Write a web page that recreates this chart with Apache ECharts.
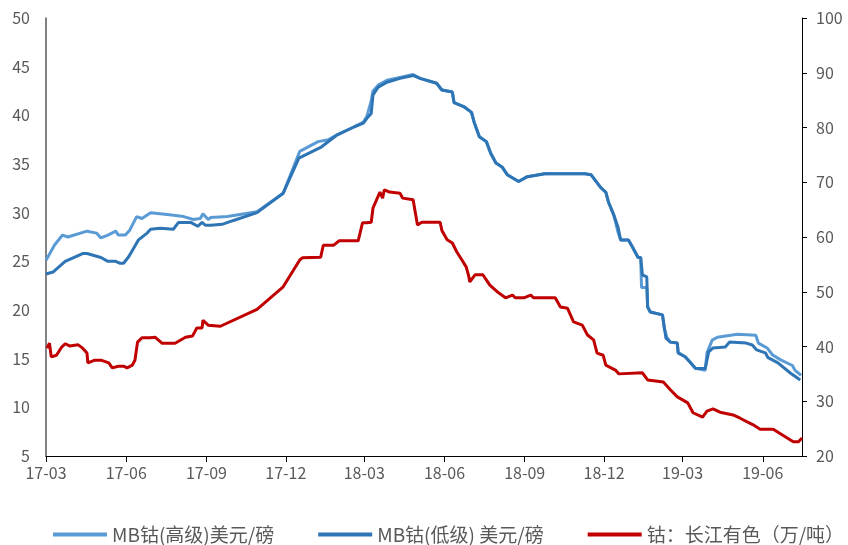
<!DOCTYPE html>
<html>
<head>
<meta charset="utf-8">
<script src="https://cdn.jsdelivr.net/npm/echarts@6/dist/echarts.min.js"></script>
<style>html,body{margin:0;padding:0;background:#fff}#c{width:848px;height:545px}</style>
</head>
<body>
<div id="c"></div>
<script>
const xTickLabels = ['17-03','17-06','17-09','17-12','18-03','18-06','18-09','18-12','19-03','19-06'];
const xMin = '2017-03-01';
const xMax = '2019-07-16';

const seriesNames = ['MB钴(高级)美元/磅', 'MB钴(低级) 美元/磅', '钴：长江有色（万/吨）'];

const highGradeDates = ['2017-03-01','2017-03-11','2017-03-20','2017-03-26','2017-04-17','2017-04-28','2017-05-03','2017-05-11','2017-05-20','2017-05-23','2017-05-31','2017-06-05','2017-06-13','2017-06-19','2017-06-29','2017-07-18','2017-08-06','2017-08-17','2017-08-25','2017-08-28','2017-09-03','2017-09-06','2017-09-25','2017-10-29','2017-11-28','2017-12-17','2018-01-07','2018-01-19','2018-01-29','2018-02-17','2018-02-28','2018-03-04','2018-03-09','2018-03-11','2018-03-17','2018-03-27','2018-04-11','2018-04-26','2018-05-04','2018-05-23','2018-05-29','2018-06-10','2018-06-12','2018-06-23','2018-07-02','2018-07-05','2018-07-11','2018-07-19','2018-07-24','2018-07-30','2018-08-06','2018-08-12','2018-08-25','2018-09-04','2018-09-24','2018-11-09','2018-11-16','2018-11-27','2018-12-03','2018-12-06','2018-12-12','2018-12-17','2018-12-20','2018-12-29','2019-01-03','2019-01-09','2019-01-12','2019-01-13','2019-01-19','2019-01-20','2019-01-23','2019-02-06','2019-02-08','2019-02-11','2019-02-15','2019-02-23','2019-02-24','2019-03-04','2019-03-10','2019-03-16','2019-03-18','2019-03-27','2019-03-29','2019-04-04','2019-04-10','2019-05-03','2019-05-24','2019-05-27','2019-06-06','2019-06-12','2019-06-21','2019-07-05','2019-07-08','2019-07-15'];
const highGradeValues = [25.1,26.7,27.7,27.5,28.1,27.9,27.4,27.7,28.1,27.7,27.7,28.2,29.6,29.4,30.0,29.8,29.6,29.3,29.4,29.9,29.3,29.5,29.6,30.1,32.0,36.3,37.3,37.5,38.0,38.8,39.3,39.9,41.5,42.5,43.1,43.6,43.9,44.2,43.8,43.3,42.6,42.4,41.3,40.9,40.3,39.3,37.8,37.3,36.1,35.1,34.7,33.9,33.2,33.7,34.0,34.0,33.9,32.6,32.1,31.1,29.8,28.0,27.2,27.2,26.4,25.4,25.4,22.3,22.3,20.3,19.8,19.5,18.1,17.2,16.7,16.6,15.6,15.2,14.6,14.0,13.8,13.8,15.6,16.9,17.2,17.5,17.4,16.6,16.1,15.4,14.9,14.3,13.8,13.3];

const lowGradeDates = ['2017-03-01','2017-03-09','2017-03-23','2017-04-12','2017-04-17','2017-05-03','2017-05-11','2017-05-20','2017-05-25','2017-05-29','2017-06-04','2017-06-15','2017-06-25','2017-06-29','2017-07-10','2017-07-25','2017-07-31','2017-08-14','2017-08-22','2017-08-27','2017-08-31','2017-09-06','2017-09-19','2017-10-02','2017-10-29','2017-11-28','2017-12-16','2018-01-10','2018-01-29','2018-02-17','2018-02-28','2018-03-04','2018-03-09','2018-03-11','2018-03-17','2018-03-27','2018-04-11','2018-04-26','2018-05-04','2018-05-23','2018-05-29','2018-06-10','2018-06-12','2018-06-23','2018-07-02','2018-07-05','2018-07-11','2018-07-19','2018-07-24','2018-07-30','2018-08-06','2018-08-12','2018-08-25','2018-09-04','2018-09-24','2018-11-09','2018-11-16','2018-11-27','2018-12-03','2018-12-06','2018-12-12','2018-12-17','2018-12-20','2018-12-29','2019-01-03','2019-01-09','2019-01-12','2019-01-14','2019-01-19','2019-01-20','2019-01-23','2019-02-06','2019-02-10','2019-02-15','2019-02-23','2019-02-24','2019-03-04','2019-03-10','2019-03-16','2019-03-18','2019-03-27','2019-03-31','2019-04-05','2019-04-19','2019-04-24','2019-05-13','2019-05-20','2019-05-25','2019-06-04','2019-06-07','2019-06-18','2019-07-03','2019-07-14'];
const lowGradeValues = [23.7,23.9,25.0,25.8,25.8,25.4,25.0,25.0,24.8,24.8,25.5,27.2,27.9,28.3,28.4,28.3,29.0,29.0,28.6,29.0,28.7,28.7,28.8,29.2,30.0,32.0,35.6,36.7,38.0,38.8,39.2,39.7,40.2,42.1,42.9,43.4,43.8,44.1,43.8,43.3,42.6,42.4,41.3,40.9,40.3,39.3,37.8,37.3,36.1,35.1,34.7,33.9,33.2,33.7,34.0,34.0,33.9,32.6,32.1,31.1,29.8,28.5,27.2,27.2,26.4,25.4,25.4,23.6,23.4,20.3,19.8,19.5,17.1,16.7,16.6,15.6,15.2,14.6,14.0,13.8,14.0,15.7,16.1,16.2,16.7,16.6,16.4,15.9,15.6,15.1,14.6,13.5,12.8];

const changjiangDates = ['2017-03-02','2017-03-05','2017-03-07','2017-03-13','2017-03-19','2017-03-23','2017-03-28','2017-04-07','2017-04-12','2017-04-17','2017-04-18','2017-04-26','2017-05-03','2017-05-05','2017-05-12','2017-05-16','2017-05-23','2017-05-29','2017-06-02','2017-06-08','2017-06-11','2017-06-14','2017-06-19','2017-06-28','2017-07-04','2017-07-12','2017-07-27','2017-08-08','2017-08-16','2017-08-21','2017-08-27','2017-08-28','2017-09-03','2017-09-17','2017-10-29','2017-11-28','2017-12-17','2017-12-20','2018-01-10','2018-01-13','2018-01-25','2018-01-31','2018-02-22','2018-02-27','2018-03-04','2018-03-09','2018-03-11','2018-03-19','2018-03-22','2018-03-24','2018-03-30','2018-04-11','2018-04-14','2018-04-26','2018-05-01','2018-05-06','2018-05-27','2018-05-29','2018-06-04','2018-06-10','2018-06-15','2018-06-21','2018-06-26','2018-06-29','2018-06-30','2018-07-06','2018-07-15','2018-07-23','2018-08-02','2018-08-10','2018-08-18','2018-08-21','2018-08-31','2018-09-08','2018-09-11','2018-10-06','2018-10-12','2018-10-20','2018-10-27','2018-11-06','2018-11-12','2018-11-19','2018-11-23','2018-11-30','2018-12-03','2018-12-09','2018-12-14','2018-12-18','2019-01-14','2019-01-20','2019-02-07','2019-02-15','2019-02-23','2019-03-07','2019-03-13','2019-03-24','2019-03-29','2019-04-05','2019-04-13','2019-04-28','2019-05-06','2019-05-21','2019-05-29','2019-06-13','2019-06-24','2019-07-06','2019-07-12','2019-07-16'];
const changjiangValues = [39.7,40.6,38.1,38.4,39.9,40.5,40.1,40.3,39.7,38.8,37.0,37.5,37.5,37.2,37.0,36.1,36.4,36.4,36.1,36.6,37.5,40.8,41.6,41.6,41.7,40.6,40.6,41.7,41.9,43.4,43.4,44.8,43.9,43.7,46.8,50.9,55.8,56.2,56.3,58.5,58.5,59.3,59.3,62.6,62.6,62.7,65.3,68.2,67.1,68.6,68.2,68.0,67.1,66.8,62.2,62.7,62.7,61.2,59.5,58.9,57.3,55.8,54.5,52.7,51.8,53.1,53.1,51.2,49.8,48.9,49.4,48.9,48.9,49.4,48.9,48.9,47.2,47.0,44.5,43.9,42.1,41.2,38.8,38.4,36.6,36.1,35.7,35.0,35.2,33.9,33.5,32.1,30.8,29.7,27.9,27.1,28.2,28.6,28.0,27.5,26.9,25.7,24.9,24.9,23.8,22.6,22.6,23.3];

function ts(s) { const p = s.split('-'); return Date.UTC(+p[0], +p[1] - 1, +p[2]); }
function zip(d, v) { return d.map((x, i) => [ts(x), v[i]]); }
const tickValues = xTickLabels.map(s => {
  const p = s.split('-');
  return Date.UTC(2000 + (+p[0]), (+p[1]) - 1, 1);
});
function pad(n){return n<10?'0'+n:''+n;}
function fmt(v){ const d = new Date(v); return pad(d.getUTCFullYear() % 100) + '-' + pad(d.getUTCMonth() + 1); }

const txt = '#595959';
const font = '"Noto Sans CJK SC", "Open Sans", sans-serif';

const chart = echarts.init(document.getElementById('c'), null, {renderer: 'canvas'});
chart.setOption({
  animation: false,
  backgroundColor: '#fff',
  grid: {left: 46, right: 46, top: 18, bottom: 89, containLabel: false},
  legend: {
    bottom: 1,
    left: 53,
    width: 795,
    padding: 0,
    itemWidth: 54,
    itemHeight: 4,
    itemGap: 44,
    icon: 'rect',
    textStyle: {color: txt, fontSize: 19, fontFamily: font},
    data: seriesNames
  },
  xAxis: {
    type: 'value',
    min: ts(xMin),
    max: ts(xMax),
    splitLine: {show: false},
    axisLine: {lineStyle: {color: '#000', width: 1}},
    axisTick: {show: true, length: 6, lineStyle: {color: '#000'}, customValues: tickValues},
    axisLabel: {
      customValues: tickValues,
      color: txt, fontSize: 16, fontFamily: font, margin: 9,
      formatter: v => fmt(v)
    }
  },
  yAxis: [
    {
      type: 'value', min: 5, max: 50, interval: 5,
      position: 'left',
      splitLine: {show: false},
      axisLine: {show: true, lineStyle: {color: '#595959', width: 1.5}},
      axisTick: {show: false},
      axisLabel: {color: txt, fontSize: 16, fontFamily: font, margin: 16}
    },
    {
      type: 'value', min: 20, max: 100, interval: 10,
      position: 'right',
      splitLine: {show: false},
      axisLine: {show: true, lineStyle: {color: '#000', width: 1}},
      axisTick: {show: true, length: 5, inside: false, lineStyle: {color: '#000'}},
      axisLabel: {color: txt, fontSize: 16, fontFamily: font, margin: 14}
    }
  ],
  series: [
    {
      name: seriesNames[0], type: 'line', yAxisIndex: 0, showSymbol: false, symbol: 'none',
      lineStyle: {color: '#5B9BD5', width: 3}, itemStyle: {color: '#5B9BD5'},
      data: zip(highGradeDates, highGradeValues)
    },
    {
      name: seriesNames[1], type: 'line', yAxisIndex: 0, showSymbol: false, symbol: 'none',
      lineStyle: {color: '#2E75B6', width: 3}, itemStyle: {color: '#2E75B6'},
      data: zip(lowGradeDates, lowGradeValues)
    },
    {
      name: seriesNames[2], type: 'line', yAxisIndex: 1, showSymbol: false, symbol: 'none',
      lineStyle: {color: '#C00000', width: 3}, itemStyle: {color: '#C00000'},
      data: zip(changjiangDates, changjiangValues)
    }
  ]
});
</script>
</body>
</html>
